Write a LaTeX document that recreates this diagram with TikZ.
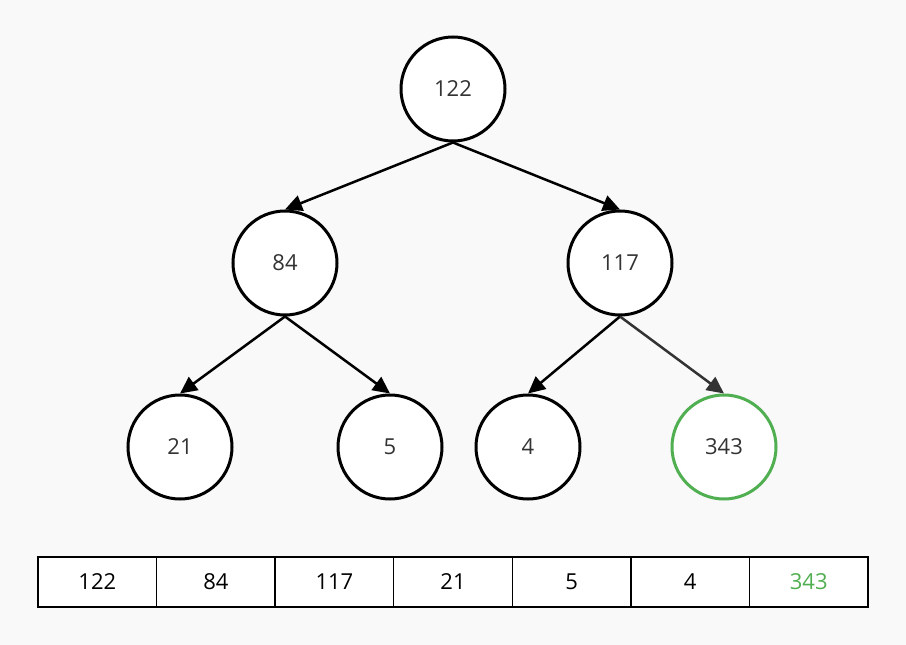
\documentclass[tikz,border=0pt]{standalone}
\usepackage{fontspec}
\setmainfont{Open Sans}
\usetikzlibrary{arrows.meta}
\definecolor{bggray}{RGB}{249,249,249}
\definecolor{heapgreen}{RGB}{80,175,80}
\definecolor{txtgray}{RGB}{51,51,51}
\begin{document}
\begin{tikzpicture}[x=1pt, y=-1pt, >={Triangle[length=17pt,width=16pt]},
    heapnode/.style={circle, draw, line width=3pt, fill=white, minimum size=104pt,
        inner sep=0pt, text=txtgray, font=\fontsize{22}{26}\selectfont},
    cell/.style={rectangle, draw, line width=1.5pt, fill=white, minimum width=118.6pt,
        minimum height=50pt, inner sep=0pt, font=\fontsize{22}{26}\selectfont},
    edge/.style={->, line width=2.5pt}]
    \fill[bggray] (0,0) rectangle (906,645);
    \useasboundingbox (0,0) rectangle (906,645);

    % tree
    \node[heapnode] (n122) at (453,89) {122};
    \node[heapnode] (n84) at (285,263) {84};
    \node[heapnode] (n117) at (620,263) {117};
    \node[heapnode] (n21) at (180,447) {21};
    \node[heapnode] (n5) at (390,447) {5};
    \node[heapnode] (n4) at (528,447) {4};
    \node[heapnode, draw=heapgreen] (n343) at (724,447) {343};

    \draw[edge] (n122.south) -- (n84.north);
    \draw[edge] (n122.south) -- (n117.north);
    \draw[edge] (n84.south) -- (n21.north);
    \draw[edge] (n84.south) -- (n5.north);
    \draw[edge] (n117.south) -- (n4.north);
    \draw[edge, draw=txtgray, fill=txtgray] (n117.south) -- (n343.north);

    % array
    \foreach \v [count=\i] in {122,84,117,21,5,4}
        \node[cell] (c\i) at ({38+118.57*(\i-0.5)},582) {\v};
    \node[cell, text=heapgreen] (c7) at ({38+118.57*6.5},582) {343};
\end{tikzpicture}
\end{document}
